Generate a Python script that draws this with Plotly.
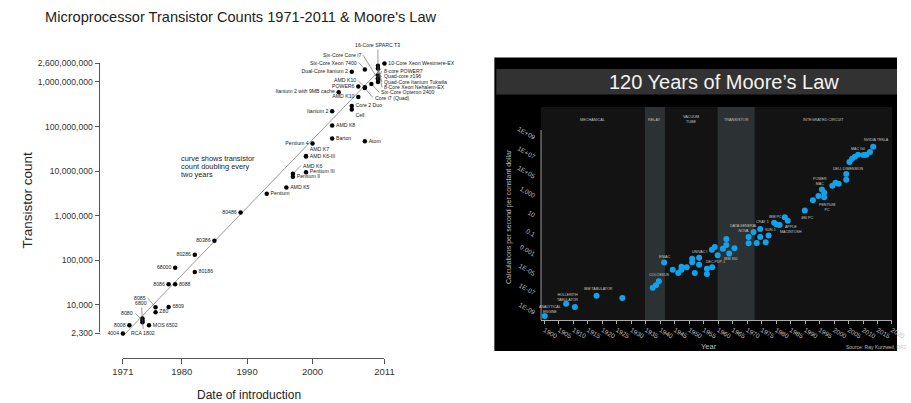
import math
import plotly.graph_objects as go

W, H = 911, 403
SANS = "Liberation Sans, Arial, Helvetica, sans-serif"

# ---------------- Microprocessor transistor counts 1971-2011 ----------------
chip_names = [
    "4004", "8008", "8080", "RCA 1802", "6800", "MOS 6502", "8085", "Z80", "6809",
    "8086", "8088", "68000", "80186", "80286", "80386", "80486", "Pentium", "AMD K5",
    "Pentium II", "AMD K6", "Pentium III", "AMD K6-III", "AMD K7", "Pentium 4",
    "Barton", "AMD K8", "Itanium 2", "Cell", "Core 2 Duo", "Atom", "AMD K10",
    "Itanium 2 with 9MB cache", "POWER6", "AMD K10", "Core i7 (Quad)",
    "Six-Core Opteron 2400", "Dual-Core Itanium 2", "Six-Core Xeon 7400",
    "Six-Core Core i7", "8-core POWER7", "Quad-core z196", "Quad-Core Itanium Tukwila",
    "8-Core Xeon Nehalem-EX", "10-Core Xeon Westmere-EX", "16-Core SPARC T3",
]
chip_years = [
    1971, 1972, 1974, 1974, 1974, 1975, 1976, 1976, 1978,
    1978, 1979, 1979, 1982, 1982, 1985, 1989, 1993, 1996,
    1997, 1997, 1999, 1999, 1999, 2000,
    2003, 2003, 2003, 2006, 2006, 2008, 2007,
    2004, 2007, 2008, 2008,
    2009, 2006, 2008,
    2010, 2010, 2010, 2010,
    2010, 2011, 2010,
]
chip_counts = [
    2300, 3500, 4500, 5000, 4100, 3510, 8900, 6900, 9000,
    29000, 29000, 68000, 55000, 134000, 275000, 1180000, 3100000, 4300000,
    7500000, 8800000, 9500000, 21300000, 22000000, 42000000,
    54300000, 105900000, 220000000, 241000000, 291000000, 47000000, 463000000,
    592000000, 789000000, 758000000, 731000000,
    904000000, 1700000000, 1900000000,
    1170000000, 1200000000, 1400000000, 2000000000,
    2300000000, 2600000000, 1000000000,
]

# Trend line: transistor count doubling every two years
moore_years = [1971, 2010.5]
moore_counts = [2000, 2.0e9]

count_ticks = [2300, 1e4, 1e5, 1e6, 1e7, 1e8, 1e9, 2.6e9]
count_tick_text = ["2,300", "10,000", "100,000", "1,000,000", "10,000,000",
                   "100,000,000", "1,000,000,000", "2,600,000,000"]
intro_year_ticks = [1971, 1980, 1990, 2000, 2011]

# ---------------- 120 years of computing per constant dollar ----------------
calc_years = [
    1900.1, 1907.5, 1910.5, 1918.0, 1926.9, 1937.4, 1938.5, 1939.5, 1941.3, 1944.3,
    1946.2, 1947.3, 1947.3, 1949.1, 1951.0, 1951.0, 1951.9, 1953.4, 1953.4, 1956.1,
    1956.1, 1957.9, 1957.8, 1958.8, 1959.8, 1961.6, 1962.8, 1962.8, 1963.8, 1965.6,
    1970.5, 1970.5, 1972.2, 1973.3, 1974.5, 1974.5, 1976.4, 1977.4, 1979.3, 1980.1,
    1981.2, 1983.0, 1984.0, 1989.9, 1992.7, 1994.6, 1995.8, 1996.6, 1996.6, 1999.4,
    2000.5, 2001.6, 2004.2, 2004.2, 2005.3, 2006.2, 2007.2, 2008.3, 2010.2, 2011.2,
    2012.4, 2013.5,
]
calc_values = [
    4.9e-10, 8.9e-9, 4.1e-9, 6.0e-8, 3.5e-8, 4.0e-7, 7.1e-7, 1.9e-6, 1.6e-4, 2.8e-5,
    1.3e-5, 5.8e-5, 2.8e-5, 5.0e-5, 3.8e-4, 1.7e-4, 1.3e-5, 4.9e-4, 9.3e-5, 3.5e-5,
    1.0e-5, 5.0e-5, 3.2e-3, 6.2e-3, 8.5e-4, 4.1e-3, 4.1e-2, 9.8e-3, 1.3e-3, 4.5e-3,
    6.5e-2, 1.5e-2, 0.21, 1.6e-2, 0.44, 6.5e-2, 1.9e-2, 9.3e-2, 1.9, 1.3,
    1.1, 6.9, 3.1, 36, 390, 1100, 5200, 2300, 790, 1.2e4,
    2.5e4, 2.0e4, 2.0e5, 5.1e4, 3.4e6, 7.4e6, 1.2e7, 1.9e7, 1.8e7, 1.9e7,
    3.6e7, 1.3e8,
]
# (point index, machine name)
machine_labels = [
    (0, "ANALYTICAL<br>ENGINE"), (1, "HOLLERITH<br>TABULATOR"), (3, "IBM TABULATOR"),
    (7, "COLOSSUS"), (8, "ENIAC"), (17, "UNIVAC I"), (21, "DEC PDP-1"), (28, "IBM 360"),
    (30, "DATA GENERAL<br>NOVA"), (34, "CRAY 1"), (37, "SUN-1"), (38, "IBM PC"),
    (42, "APPLE<br>MACINTOSH"), (43, "486 PC"), (46, "POWER<br>MAC"),
    (48, "PENTIUM<br>PC"), (52, "DELL DIMENSION"), (56, "MAC G4"), (61, "NVIDIA TESLA"),
]
era_names = ["MECHANICAL", "RELAY", "VACUUM<br>TUBE", "TRANSISTOR", "INTEGRATED CIRCUIT"]
era_edges = [1898.83, 1934.7, 1941.6, 1959.8, 1972.6, 2020.05]
shaded_eras = [1, 3]

calc_ticks = [1e-9, 1e-7, 1e-5, 1e-3, 1e-1, 10, 1000, 1e5, 1e7, 1e9]
calc_tick_text = ["1E-09", "1E-07", "1E-05", "0.001", "0.1", "10", "1,000",
                  "1E+05", "1E+07", "1E+09"]
calc_year_ticks = list(range(1900, 2021, 5))

# ---------------- label placement (styling) ----------------
left_side = {("4004", 1971), ("8008", 1972), ("8086", 1978), ("68000", 1979),
             ("80286", 1982), ("80386", 1985), ("80486", 1989), ("Pentium 4", 2000),
             ("Itanium 2", 2003), ("AMD K10", 2007), ("Itanium 2 with 9MB cache", 2004),
             ("POWER6", 2007), ("Dual-Core Itanium 2", 2006)}
top_side = {("AMD K7", 1999)}
bottom_side = {("Cell", 2006)}
# leader-line labels: (ax, ay, xanchor) in pixels
leaders = {
    ("8080", 1974): (-7, -7, "right"),
    ("RCA 1802", 1974): (1, 15, "center"),
    ("6800", 1974): (-1, -19, "center"),
    ("8085", 1976): (-8, -9.5, "right"),
    ("AMD K6", 1997): (8, -8, "left"),
    ("16-Core SPARC T3", 2010): (0, -37, "center"),
    ("Six-Core Core i7", 2010): (-15, -24, "right"),
    ("Six-Core Xeon 7400", 2008): (-6, -7, "right"),
    ("AMD K10", 2008): (-7, -7, "right"),
    ("Core i7 (Quad)", 2008): (8, 9.5, "left"),
    ("Six-Core Opteron 2400", 2009): (8, 8.5, "left"),
    ("8-core POWER7", 2010): (4, -7.5, "left"),
    ("Quad-core z196", 2010): (4, 1, "left"),
    ("Quad-Core Itanium Tukwila", 2010): (4, 13.4, "left"),
    ("8-Core Xeon Nehalem-EX", 2010): (4, 21.6, "left"),
}
machine_label_shift = [(5, 6.5), (1, 6.7), (1.5, 6.7), (0.5, 6.5), (0, 5.3), (0, 5.7),
                       (3.4, 5), (1.3, -5.3), (-4.7, 8.5), (2.3, 7), (2, 5.2), (1, 6),
                       (3.5, -8.6), (2.6, -7.4), (-1.8, 8.3), (3, -9.7), (2.4, 5.3),
                       (2.7, 7.7), (3, 6.4)]


def px(x):
    return x / W


def py(y):
    return 1 - y / H


def caption(x, y, text, size, color, **kw):
    d = dict(x=px(x), y=py(y), xref="paper", yref="paper", showarrow=False,
             xanchor="center", yanchor="middle", text=text,
             font=dict(size=size, color=color, family=SANS))
    d.update(kw)
    return d


fig = go.Figure()

# trend line
fig.add_trace(go.Scatter(x=moore_years, y=moore_counts, mode="lines",
                         line=dict(color="#9a9a9a", width=1),
                         xaxis="x", yaxis="y", hoverinfo="skip"))

keys = list(zip(chip_names, chip_years))
texts, positions = [], []
for k in keys:
    texts.append("" if k in leaders else k[0])
    if k in left_side:
        positions.append("middle left")
    elif k in top_side:
        positions.append("top right")
    elif k in bottom_side:
        positions.append("bottom right")
    else:
        positions.append("middle right")

fig.add_trace(go.Scatter(x=chip_years, y=chip_counts, mode="markers+text",
                         marker=dict(color="#000000", size=4.5),
                         text=texts, textposition=positions,
                         textfont=dict(size=5.2, color="#222222", family=SANS),
                         cliponaxis=False, xaxis="x", yaxis="y", hoverinfo="skip"))

annotations = []
for k, (ax, ay, xa) in leaders.items():
    i = keys.index(k)
    annotations.append(dict(
        x=chip_years[i], y=math.log10(chip_counts[i]), xref="x", yref="y",
        text=k[0], showarrow=True, arrowhead=0, arrowwidth=0.6, arrowcolor="#555555",
        ax=ax, ay=ay, xanchor=xa, yanchor="middle", standoff=1.5,
        font=dict(size=5.2, color="#222222", family=SANS)))

# computing per dollar
fig.add_trace(go.Scatter(x=calc_years, y=calc_values, mode="markers",
                         marker=dict(color="#12a2ea", size=6),
                         cliponaxis=False, xaxis="x2", yaxis="y2", hoverinfo="skip"))

for (i, name), (dx, dy) in zip(machine_labels, machine_label_shift):
    annotations.append(dict(
        x=calc_years[i], y=math.log10(calc_values[i]), xref="x2", yref="y2",
        text=name, showarrow=False, xshift=dx, yshift=dy,
        xanchor="center", yanchor="middle",
        font=dict(size=3.6, color="#c8c8c8", family=SANS)))

for j, name in enumerate(era_names):
    annotations.append(dict(
        x=(era_edges[j] + era_edges[j + 1]) / 2, y=py(120), xref="x2", yref="paper",
        text=name, showarrow=False, xanchor="center", yanchor="middle",
        font=dict(size=3.8, color="#c0c0c0", family=SANS)))

# titles and axis captions
annotations += [
    caption(236, 17, "Microprocessor Transistor Counts 1971-2011 & Moore's Law", 14.6, "#222222"),
    caption(16, 200, "Transistor count", 13.5, "#222222", textangle=-90),
    caption(245, 395, "Date of introduction", 12, "#222222"),
    caption(733, 82, "120 Years of Moore\u2019s Law", 20, "#f2f2f2"),
    caption(512, 216, "Calculations per second per constant dollar", 7, "#bdbdbd",
            textangle=-90),
    caption(718, 346, "Year", 7.5, "#bdbdbd"),
    caption(856, 347, "Source: Ray Kurzweil, DFJ", 5, "#bdbdbd", xanchor="left"),
]
for k, line in enumerate(["curve shows transistor", "count doubling every", "two years"]):
    annotations.append(caption(173, 158.5 + 8 * k, line, 7.4, "#222222", xanchor="left"))

shapes = [
    # dark panel and title strip
    dict(type="rect", xref="paper", yref="paper", x0=px(497), x1=1, y0=py(351), y1=py(57.5),
         fillcolor="#000000", line=dict(width=0), layer="below"),
    dict(type="rect", xref="paper", yref="paper", x0=px(499), x1=1, y0=py(94.5), y1=py(69),
         fillcolor="#323232", line=dict(width=0), layer="below"),
    dict(type="rect", xref="x2 domain", yref="y2 domain", x0=0, x1=1, y0=0, y1=1,
         fillcolor="#131313", line=dict(width=0), layer="below"),
    # vertical axis lines
    dict(type="line", xref="paper", yref="paper", x0=px(91), x1=px(91),
         y0=py(332.2), y1=py(63.5), line=dict(color="#555555", width=1)),
    dict(type="line", xref="paper", yref="paper", x0=px(545), x1=px(545),
         y0=py(320), y1=py(130), line=dict(color="#9a9a9a", width=1)),
]
for j in shaded_eras:
    shapes.append(dict(type="rect", xref="x2", yref="y2 domain",
                       x0=era_edges[j], x1=era_edges[j + 1], y0=0, y1=1,
                       fillcolor="#2c3133", line=dict(width=0), layer="below"))

fig.update_layout(
    width=W, height=H, margin=dict(l=0, r=0, t=0, b=0), autosize=False,
    paper_bgcolor="#ffffff", plot_bgcolor="rgba(0,0,0,0)", showlegend=False,
    font=dict(family=SANS),
    xaxis=dict(domain=[px(115), px(384)], range=[1971, 2011], anchor="free",
               position=py(358), showline=True, linecolor="#555555", linewidth=1,
               ticks="outside", ticklen=5, tickcolor="#555555", tickvals=intro_year_ticks,
               tickfont=dict(size=9.5, color="#333333"), showgrid=False, zeroline=False),
    yaxis=dict(type="log", domain=[py(345), py(55)], range=[3.103, 9.605], anchor="free",
               position=px(91), showline=False, ticks="outside", ticklen=5,
               tickcolor="#555555", tickvals=count_ticks, ticktext=count_tick_text,
               tickfont=dict(size=8.6, color="#333333"), showgrid=False, zeroline=False),
    xaxis2=dict(domain=[px(545), px(906)], range=[1898.83, 2020.05], anchor="y2",
                showline=True, linecolor="#aaaaaa", linewidth=1, ticks="outside",
                ticklen=3, tickcolor="#aaaaaa", tickvals=calc_year_ticks, tickangle=30,
                tickfont=dict(size=6.5, color="#bdbdbd"), showgrid=False, zeroline=False),
    yaxis2=dict(type="log", domain=[py(320), py(107)], range=[-9.72, 12.19], anchor="x2",
                showline=False, ticks="", tickvals=calc_ticks, ticktext=calc_tick_text,
                tickangle=30, ticklabelstandoff=5,
                tickfont=dict(size=6.5, color="#bdbdbd"), showgrid=False, zeroline=False),
    annotations=annotations,
    shapes=shapes,
)

fig.write_html("out.html")
